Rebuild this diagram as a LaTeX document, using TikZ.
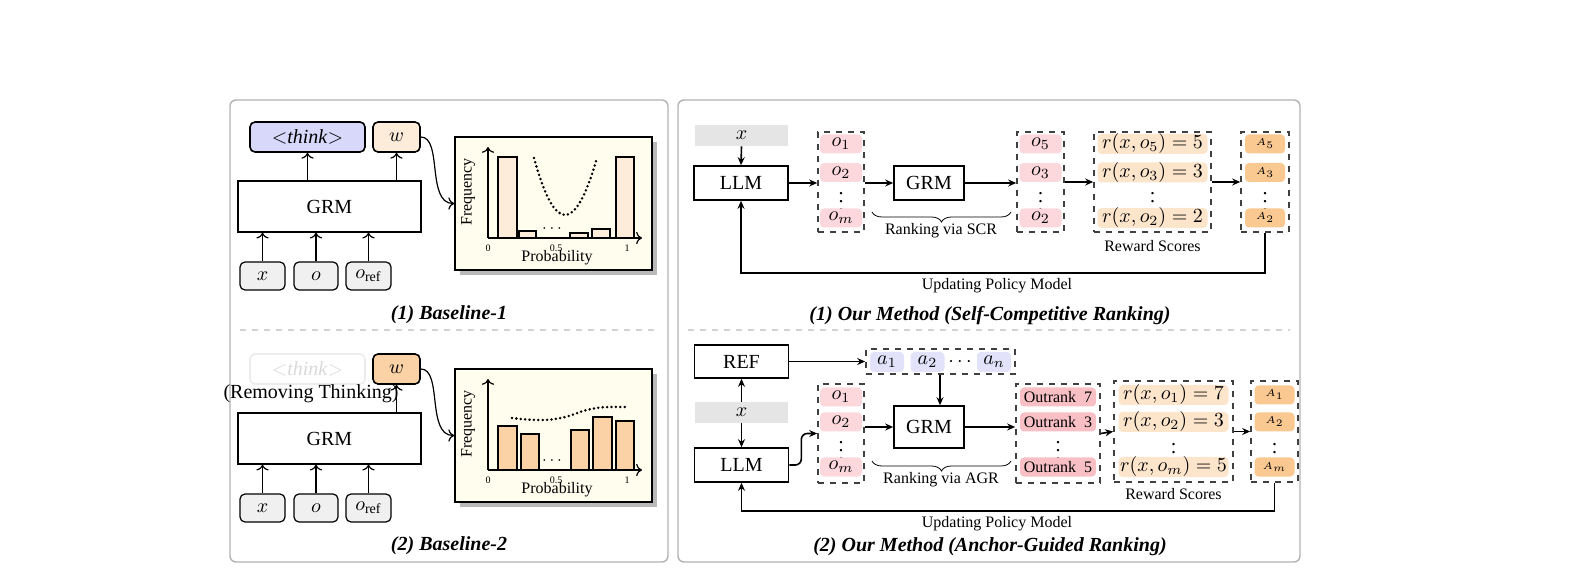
\documentclass[tikz,border=0pt]{standalone}
\usepackage{fontspec}
\setmainfont{Liberation Serif}
\usetikzlibrary{positioning,decorations.pathreplacing,calc,arrows.meta}

\definecolor{thinkblue}{RGB}{216,216,250}
\definecolor{plotbg}{RGB}{255,253,238}
\definecolor{opink}{RGB}{252,216,220}
\definecolor{orank}{RGB}{248,192,196}
\definecolor{rscore}{RGB}{253,229,204}
\definecolor{aorange}{RGB}{250,200,145}
\definecolor{wlight}{RGB}{253,236,218}
\definecolor{wdark}{RGB}{250,210,165}
\definecolor{anchorblue}{RGB}{226,226,250}

\tikzset{
    panel/.style={draw=gray!60,line width=0.7pt,rounded corners=3pt},
    sep/.style={draw=gray!35,dashed,line width=0.6pt},
    blk/.style={draw,inner sep=0pt},
    tok/.style={draw,thick,rounded corners=2.5pt,inner sep=0pt},
    pill/.style={rounded corners=2pt,inner sep=0pt,minimum width=21pt,minimum height=9.5pt},
    grp/.style={draw=black!75,dashed,thick,inner sep=0pt},
    plotbox/.style={draw,thick,fill=plotbg,minimum width=98.5pt,minimum height=66.5pt,inner sep=0pt},
    bar/.style={draw,thick},
    curvedots/.style={line width=1.4pt,dash pattern=on 0pt off 2.2pt,line cap=round},
    arr/.style={-{Stealth[length=4pt,width=3.5pt]},thick},
    larr/.style={->,semithick},
    captext/.style={font=\bfseries\itshape},
    note/.style={font=\footnotesize},
}

\begin{document}
\begin{tikzpicture}[x=0.5pt,y=-0.5pt]
    \useasboundingbox (0,0) rectangle (1581,572);
    % panels
    \draw[panel] (230,100) rectangle (668,562);
    \draw[panel] (678,100) rectangle (1300,562);
    \draw[sep] (240,330) -- (658,330);
    \draw[sep] (688,330) -- (1290,330);

    % ---- Baseline-1
    \node[tok,fill=thinkblue,minimum width=57.5pt,minimum height=15pt] (think1) at (307.5,137) {$<$\textit{think}$>$};
    \node[tok,fill=wlight,minimum width=23.5pt,minimum height=15pt] (w1) at (396.5,137) {$w$};
    \node[blk,semithick,minimum width=91.5pt,minimum height=25.5pt] (grm0) at (329.5,206.5) {GRM};
    \node[tok,semithick,fill=gray!12,minimum width=22.5pt,minimum height=14pt] (in1x) at (262.5,276) {$x$};
    \node[tok,semithick,fill=gray!12,minimum width=22pt,minimum height=14pt] (in1o) at (316,276) {$o$};
    \node[tok,semithick,fill=gray!12,minimum width=22.5pt,minimum height=14pt] (in1r) at (368.5,276) {$o_{\mathrm{ref}}$};
    \draw[larr] (in1x.north) -- (in1x.north |- grm0.south);
    \draw[larr] (in1o.north) -- (in1o.north |- grm0.south);
    \draw[larr] (in1r.north) -- (in1r.north |- grm0.south);
    \draw[larr] (think1.south |- grm0.north) -- (think1.south);
    \draw[larr] (w1.south |- grm0.north) -- (w1.south);
    \fill[gray!55] (460,142) rectangle (657,275);
    \node[plotbox] (pl1) at (553.5,203.5) {};
    \draw[larr] (w1.east) .. controls +(22,0) and +(-28,0) .. (pl1.west);
    \draw[bar,fill=wlight] (498,238) rectangle (517,157);
    \draw[bar,fill=wlight] (519,238) rectangle (536,231);
    \draw[bar,fill=wlight] (570,238) rectangle (588,233);
    \draw[bar,fill=wlight] (592,238) rectangle (610,229);
    \draw[bar,fill=wlight] (616,238) rectangle (634,157);
    \draw[curvedots] (534,158) .. controls (555,234) and (575,234) .. (597,158);
    \draw[larr] (488,238) -- (488,147);
    \draw[larr] (488,238) -- (642,238);
    \node at (552,229) {\footnotesize$\cdots$};
    \node[font=\tiny] at (488,248) {0};
    \node[font=\tiny] at (556,248) {0.5};
    \node[font=\tiny] at (627,248) {1};
    \node[note] at (557,258) {Probability};
    \node[note,rotate=90] at (468,192) {Frequency};
    \node[captext] at (449,315) {(1) Baseline-1};

    % ---- Baseline-2
    \node[tok,draw=gray!15,text=gray!30,minimum width=57.5pt,minimum height=15pt] (think2) at (307.5,369) {$<$\textit{think}$>$};
    \node[tok,fill=wdark,minimum width=23.5pt,minimum height=15pt] (w2) at (396.5,369) {$w$};
    \node at (311,394) {(Removing Thinking)};
    \node[blk,semithick,minimum width=91.5pt,minimum height=25.5pt] (grm00) at (329.5,438.5) {GRM};
    \node[tok,semithick,fill=gray!12,minimum width=22.5pt,minimum height=14pt] (in2x) at (262.5,508) {$x$};
    \node[tok,semithick,fill=gray!12,minimum width=22pt,minimum height=14pt] (in2o) at (316,508) {$o$};
    \node[tok,semithick,fill=gray!12,minimum width=22.5pt,minimum height=14pt] (in2r) at (368.5,508) {$o_{\mathrm{ref}}$};
    \draw[larr] (in2x.north) -- (in2x.north |- grm00.south);
    \draw[larr] (in2o.north) -- (in2o.north |- grm00.south);
    \draw[larr] (in2r.north) -- (in2r.north |- grm00.south);
    \draw[larr] (w2.south |- grm00.north) -- (w2.south);
    \fill[gray!55] (460,374) rectangle (657,507);
    \node[plotbox] (pl2) at (553.5,435.5) {};
    \draw[larr] (w2.east) .. controls +(22,0) and +(-28,0) .. (pl2.west);
    \draw[bar,fill=wdark] (498,470) rectangle (517,426);
    \draw[bar,fill=wdark] (521,470) rectangle (539,434);
    \draw[bar,fill=wdark] (571,470) rectangle (589,430);
    \draw[bar,fill=wdark] (593,470) rectangle (612,417);
    \draw[bar,fill=wdark] (616,470) rectangle (634,421);
    \draw[curvedots] (512,418) .. controls (545,422) and (560,420) .. (580,412) .. controls (598,406) and (610,407) .. (625,407);
    \draw[larr] (488,470) -- (488,379);
    \draw[larr] (488,470) -- (642,470);
    \node at (552,461) {\footnotesize$\cdots$};
    \node[font=\tiny] at (488,480) {0};
    \node[font=\tiny] at (556,480) {0.5};
    \node[font=\tiny] at (627,480) {1};
    \node[note] at (557,490) {Probability};
    \node[note,rotate=90] at (468,424) {Frequency};
    \node[captext] at (449,546) {(2) Baseline-2};

    % ---- Self-Competitive Ranking
    \node[fill=gray!20,minimum width=46.5pt,minimum height=10.5pt,inner sep=0pt] (x1) at (741.5,135.5) {$x$};
    \node[blk,thick,minimum width=47pt,minimum height=17pt] (llm1) at (741,183) {LLM};
    \node[grp,minimum width=23pt,minimum height=50pt] (og1) at (841,182) {};
    \node[pill,fill=opink] (o11) at (841,144) {$o_1$};
    \node[pill,fill=opink] (o12) at (841,172.5) {$o_2$};
    \node at (841,196) {$\vdots$};
    \node[pill,fill=opink] (o1m) at (841,218) {$o_m$};
    \node[blk,thick,minimum width=35pt,minimum height=17pt] (grm1) at (929,183) {GRM};
    \node[grp,minimum width=23.5pt,minimum height=50pt] (rg1) at (1040.5,182) {};
    \node[pill,fill=opink] (r11) at (1040.5,144) {$o_5$};
    \node[pill,fill=opink] (r12) at (1040.5,172.5) {$o_3$};
    \node at (1040.5,196) {$\vdots$};
    \node[pill,fill=opink] (r1m) at (1040.5,218) {$o_2$};
    \node[grp,minimum width=58.5pt,minimum height=50pt] (sg1) at (1152.5,182) {};
    \node[pill,fill=rscore,minimum width=55pt] (s11) at (1152.5,144) {$r(x,o_5)=5$};
    \node[pill,fill=rscore,minimum width=55pt] (s12) at (1152.5,172.5) {$r(x,o_3)=3$};
    \node at (1152.5,196) {$\vdots$};
    \node[pill,fill=rscore,minimum width=55pt] (s1m) at (1152.5,218) {$r(x,o_2)=2$};
    \node[grp,minimum width=24pt,minimum height=50pt] (ag1) at (1265,182) {};
    \node[pill,fill=aorange,minimum width=20pt,font=\tiny] (a11) at (1265,144) {$A_5$};
    \node[pill,fill=aorange,minimum width=20pt,font=\tiny] (a12) at (1265,172.5) {$A_3$};
    \node at (1265,196) {$\vdots$};
    \node[pill,fill=aorange,minimum width=20pt,font=\tiny] (a1m) at (1265,218) {$A_2$};
    \draw[arr] (x1.south) -- (llm1.north);
    \draw[arr] (llm1.east) -- (llm1.east -| og1.west);
    \draw[arr] (og1.east |- grm1) -- (grm1.west);
    \draw[arr] (grm1.east) -- (grm1.east -| rg1.west);
    \draw[arr] (rg1.east) -- (sg1.west);
    \draw[arr] (sg1.east) -- (ag1.west);
    \draw[decorate,decoration={brace,mirror,amplitude=5pt}] (872,212) -- (1011,212);
    \node[note] at (941,231) {Ranking via SCR};
    \node[note] at (1152.5,246) {Reward Scores};
    \coordinate (fb1) at (997,273);
    \draw[arr] (ag1.south) |- (fb1) -| (llm1.south);
    \node[note] at (997,286) {Updating Policy Model};
    \node[captext] at (990,316) {(1) Our Method (Self-Competitive Ranking)};

    % ---- Anchor-Guided Ranking
    \node[blk,thick,minimum width=47pt,minimum height=16.5pt] (ref2) at (741.5,361.5) {REF};
    \node[fill=gray!20,minimum width=46.5pt,minimum height=10.5pt,inner sep=0pt] (x2) at (741.5,412.5) {$x$};
    \node[blk,thick,minimum width=47pt,minimum height=17pt] (llm2) at (741.5,465) {LLM};
    \node[grp,minimum width=74.5pt,minimum height=12.5pt] (anc2) at (940.5,361.5) {};
    \node[pill,fill=anchorblue,minimum width=17pt,minimum height=10pt] (an1) at (887,362) {$a_1$};
    \node[pill,fill=anchorblue,minimum width=17pt,minimum height=10pt] (an2) at (927.5,362) {$a_2$};
    \node at (960,362) {$\cdots$};
    \node[pill,fill=anchorblue,minimum width=17pt,minimum height=10pt] (ann) at (994,362) {$a_n$};
    \node[grp,minimum width=23pt,minimum height=49.5pt] (og2) at (841,433.5) {};
    \node[pill,fill=opink] (o21) at (841,397) {$o_1$};
    \node[pill,fill=opink] (o22) at (841,422) {$o_2$};
    \node at (841,445) {$\vdots$};
    \node[pill,fill=opink] (o2m) at (841,467) {$o_m$};
    \node[blk,thick,minimum width=35pt,minimum height=21pt] (grm2) at (929,427) {GRM};
    \node[grp,minimum width=42pt,minimum height=49.5pt] (or2) at (1058,433.5) {};
    \node[pill,fill=orank,minimum width=38pt,font=\footnotesize] (u21) at (1058,397) {Outrank~~7};
    \node[pill,fill=orank,minimum width=38pt,font=\footnotesize] (u22) at (1058,422) {Outrank~~3};
    \node at (1058,445) {$\vdots$};
    \node[pill,fill=orank,minimum width=38pt,font=\footnotesize] (u2m) at (1058,467) {Outrank~~5};
    \node[grp,minimum width=59.5pt,minimum height=50.5pt] (sg2) at (1173.5,431.5) {};
    \node[pill,fill=rscore,minimum width=55pt] (s21) at (1173.5,395) {$r(x,o_1)=7$};
    \node[pill,fill=rscore,minimum width=55pt] (s22) at (1173.5,422) {$r(x,o_2)=3$};
    \node at (1173.5,447) {$\vdots$};
    \node[pill,fill=rscore,minimum width=55pt] (s2m) at (1173.5,467) {$r(x,o_m)=5$};
    \node[grp,minimum width=23.5pt,minimum height=50.5pt] (ag2) at (1274.5,431.5) {};
    \node[pill,fill=aorange,minimum width=20pt,font=\tiny] (a21) at (1274.5,395) {$A_1$};
    \node[pill,fill=aorange,minimum width=20pt,font=\tiny] (a22) at (1274.5,422) {$A_2$};
    \node at (1274.5,447) {$\vdots$};
    \node[pill,fill=aorange,minimum width=20pt,font=\tiny] (a2m) at (1274.5,467) {$A_m$};
    \draw[arr] (x2.north) -- (ref2.south);
    \draw[arr] (x2.south) -- (llm2.north);
    \draw[arr] (ref2.east) -- (anc2.west);
    \draw[arr] ($(anc2.south -| grm2.north)+(11,0)$) -- ($(grm2.north)+(11,0)$);
    \draw[arr,rounded corners=3pt] (llm2.east) -- ++(12,0) |- (og2.west);
    \draw[arr] (og2.east |- grm2) -- (grm2.west);
    \draw[arr] (grm2.east) -- (grm2.east -| or2.west);
    \draw[arr] (or2.east) -- (sg2.west);
    \draw[arr] (sg2.east) -- (ag2.west);
    \draw[decorate,decoration={brace,mirror,amplitude=5pt}] (872,461) -- (1011,461);
    \node[note] at (941,480) {Ranking via AGR};
    \node[note] at (1173.5,494) {Reward Scores};
    \coordinate (fb2) at (997,511);
    \draw[arr] (ag2.south) |- (fb2) -| (llm2.south);
    \node[note] at (997,524) {Updating Policy Model};
    \node[captext] at (990,547) {(2) Our Method (Anchor-Guided Ranking)};
\end{tikzpicture}
\end{document}
